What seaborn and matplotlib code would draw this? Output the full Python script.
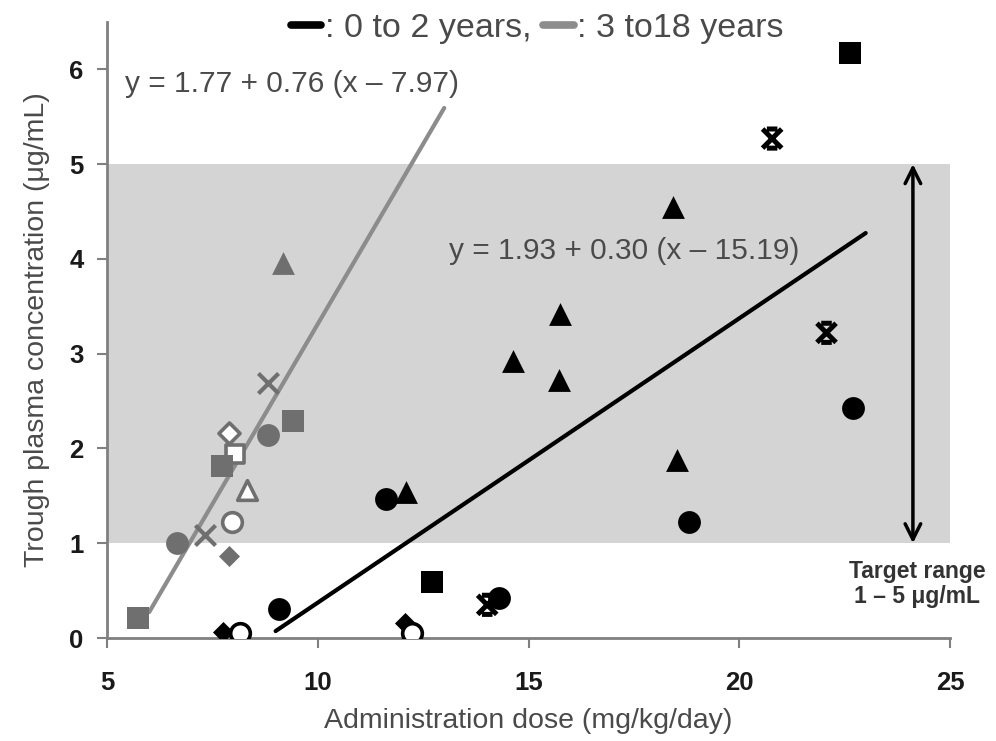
import numpy as np
import pandas as pd
import matplotlib
matplotlib.use("Agg")
import matplotlib.pyplot as plt
from matplotlib.path import Path
from matplotlib.lines import Line2D
import seaborn as sns

# ---------------- data ----------------
# 0 to 2 years (black)
young_dose = [22.62, 20.78, 18.43, 15.75, 15.72, 14.64, 18.52, 22.07, 22.70, 18.81,
              11.61, 12.10, 12.72, 14.29, 14.02, 9.08, 7.75, 8.16, 12.07, 12.24]
young_conc = [6.17, 5.27, 4.55, 3.42, 2.72, 2.92, 1.88, 3.22, 2.43, 1.22,
              1.47, 1.54, 0.59, 0.42, 0.35, 0.31, 0.06, 0.05, 0.16, 0.05]
young_shape = ["square", "cross", "triangle", "triangle", "triangle", "triangle", "triangle",
               "cross", "circle", "circle", "circle", "triangle", "square", "circle", "cross",
               "circle", "diamond", "open_circle", "diamond", "open_circle"]

# 3 to 18 years (grey)
older_dose = [9.18, 8.82, 9.41, 8.82, 7.89, 8.04, 7.73, 8.32, 7.96, 7.32, 6.66, 7.89, 5.74]
older_conc = [3.96, 2.69, 2.29, 2.14, 2.16, 1.94, 1.82, 1.56, 1.22, 1.09, 1.00, 0.87, 0.21]
older_shape = ["triangle", "x", "square", "circle", "open_diamond", "open_square", "square",
               "open_triangle", "open_circle", "x", "circle", "diamond", "square"]

# regression lines: y = a + b (x - c), drawn over [x0, x1]
young_fit = dict(a=1.93, b=0.30, c=15.19, x0=9.0, x1=23.0)
older_fit = dict(a=1.77, b=0.76, c=7.97, x0=6.0, x1=13.0)

target_low, target_high = 1, 5
xticks = [5, 10, 15, 20, 25]
yticks = [0, 1, 2, 3, 4, 5, 6]

# ---------------- style ----------------
sns.set_theme(style="white")
plt.rcParams["font.family"] = ["Liberation Sans", "DejaVu Sans"]

BLACK = "#000000"
GREY = "#6f6f6f"
LINE_GREY = "#8c8c8c"
TXT = "#4a4a4a"

cross_path = Path(
    [(-1, -1), (1, 1), (-1, 1), (1, -1), (-0.55, 1), (0.55, 1), (-0.55, -1), (0.55, -1)],
    [Path.MOVETO, Path.LINETO, Path.MOVETO, Path.LINETO,
     Path.MOVETO, Path.LINETO, Path.MOVETO, Path.LINETO])

fig = plt.figure(figsize=(9.96, 7.41), dpi=100)
ax = fig.add_axes([107 / 996, 1 - 638 / 741, 843 / 996, 616 / 741])

ax.axhspan(target_low, target_high, color="#d4d4d4", zorder=0, lw=0)


def draw_group(xs, ys, shapes, col):
    df = pd.DataFrame({"x": xs, "y": ys, "shape": shapes})
    for shp, sub in df.groupby("shape"):
        kw = dict(x=sub["x"], y=sub["y"], ax=ax, zorder=5, legend=False)
        if shp == "square":
            sns.scatterplot(**kw, marker="s", s=240, color=col, edgecolor=col, linewidth=0)
        elif shp == "circle":
            sns.scatterplot(**kw, marker="o", s=270, color=col, edgecolor=col, linewidth=0)
        elif shp == "triangle":
            sns.scatterplot(**kw, marker="^", s=270, color=col, edgecolor=col, linewidth=0)
        elif shp == "diamond":
            sns.scatterplot(**kw, marker="D", s=115, color=col, edgecolor=col, linewidth=0)
        elif shp == "x":
            sns.scatterplot(**kw, marker="x", s=210, color=col, linewidth=3)
        elif shp == "cross":
            ax.scatter(sub["x"], sub["y"], marker=cross_path, s=190, facecolor="none",
                       edgecolor=col, linewidth=3.6, zorder=5)
        elif shp.startswith("open_"):
            m = {"open_circle": "o", "open_square": "s", "open_triangle": "^",
                 "open_diamond": "D"}[shp]
            size = {"o": 200, "s": 180, "^": 200, "D": 115}[m]
            sns.scatterplot(**kw, marker=m, s=size, color="white", edgecolor=col,
                            linewidth=2.6)


# regression lines
for fit, col in [(older_fit, LINE_GREY), (young_fit, BLACK)]:
    xx = np.array([fit["x0"], fit["x1"]])
    yy = fit["a"] + fit["b"] * (xx - fit["c"])
    sns.lineplot(x=xx, y=yy, ax=ax, color=col, lw=3, zorder=4)

draw_group(older_dose, older_conc, older_shape, GREY)
draw_group(young_dose, young_conc, young_shape, BLACK)

ax.set_xlim(5, 25)
ax.set_ylim(0, 6.5)
ax.set_xticks(xticks)
ax.set_yticks(yticks)
ax.set_xticklabels([str(v) for v in xticks], fontsize=18.5, fontweight="bold", color="#1a1a1a")
ax.set_yticklabels([str(v) for v in yticks], fontsize=18.5, fontweight="bold", color="#1a1a1a")
ax.tick_params(axis="y", direction="out", length=7, width=1.5, color="#808080", pad=10, left=True)
ax.tick_params(axis="x", direction="out", length=7, width=1.5, color="#808080", pad=17, bottom=True)
for side in ["top", "right"]:
    ax.spines[side].set_visible(False)
for side in ["left", "bottom"]:
    ax.spines[side].set_color("#808080")
    ax.spines[side].set_linewidth(2)

ax.set_xlabel("Administration dose (mg/kg/day)", fontsize=20.5, color=TXT, labelpad=9)
ax.set_ylabel("Trough plasma concentration (\u03bcg/mL)", fontsize=20.5, color=TXT, labelpad=14)

# equations
ax.text(5.43, 5.85, "y = 1.77 + 0.76 (x \u2013 7.97)", fontsize=21.5, color=TXT,
        ha="left", va="center", zorder=6)
ax.text(13.12, 4.08, "y = 1.93 + 0.30 (x \u2013 15.19)", fontsize=21.5, color=TXT,
        ha="left", va="center", zorder=6)

# target range arrow
ax.annotate("", xy=(24.12, target_high), xytext=(24.12, target_low),
            arrowprops=dict(arrowstyle="<->", lw=2.5, color="black", mutation_scale=28,
                            shrinkA=0, shrinkB=0), zorder=6)
ax.text(24.22, 0.57, "Target range\n1 \u2013 5 \u03bcg/mL", fontsize=16.5, color="#333333",
        fontweight="bold", ha="center", va="center", linespacing=1.15, zorder=6)

# header legend
handles = [Line2D([0], [0], color=BLACK, lw=5.5), Line2D([0], [0], color=LINE_GREY, lw=5.5)]
fig.legend(handles, [": 0 to 2 years,", ": 3 to18 years"], loc="center",
           bbox_to_anchor=(537 / 996, 1 - 28 / 741), ncol=2, frameon=False,
           fontsize=24.5, handlelength=0.9, handletextpad=0.1, columnspacing=0.35,
           labelcolor=TXT)

fig.savefig("out.png", dpi=100)
